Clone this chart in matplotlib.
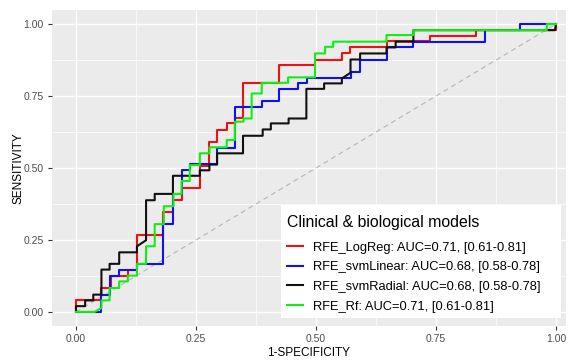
import matplotlib
matplotlib.use("Agg")
import matplotlib.pyplot as plt
from matplotlib.patches import Rectangle

plt.rcParams['font.family'] = ['Liberation Sans', 'DejaVu Sans']

# ROC paths (1-specificity, sensitivity)
logreg_fpr = [0, 0, .053, .053, .072, .072, .108, .108, .128, .128,
              .182, .182, .203, .203, .220, .220, .258, .258, .278, .278,
              .293, .293, .314, .314, .331, .331, .349, .349, .423, .423,
              .498, .498, .554, .554, .571, .571, .647, .647, .738, .738,
              .833, .833, 1.0, 1.0]
logreg_tpr = [0, .04, .04, .083, .083, .125, .125, .147, .147, .267,
              .267, .348, .348, .389, .389, .43, .43, .508, .508, .591,
              .591, .632, .632, .655, .655, .672, .672, .796, .796, .858,
              .858, .877, .877, .898, .898, .919, .919, .94, .94, .959,
              .959, .979, .979, 1.0]

svmlin_fpr = [0, .053, .053, .070, .070, .090, .090, .128, .128, .182,
              .182, .203, .203, .220, .220, .237, .237, .293, .293, .331,
              .331, .387, .387, .423, .423, .463, .463, .481, .481, .573,
              .573, .592, .592, .647, .647, .703, .703, .852, .852, .925,
              .925, 1.0]
svmlin_tpr = [0, 0, .06, .06, .124, .124, .147, .147, .167, .167,
              .307, .307, .41, .41, .493, .493, .513, .513, .568, .568,
              .713, .713, .733, .733, .773, .773, .794, .794, .813, .813,
              .834, .834, .877, .877, .919, .919, .939, .939, .979, .979,
              1.0, 1.0]

svmrad_fpr = [0, 0, .019, .019, .036, .036, .053, .053, .070, .070,
              .090, .090, .127, .127, .146, .146, .164, .164, .202, .202,
              .258, .258, .278, .278, .294, .294, .348, .348, .389, .389,
              .406, .406, .443, .443, .480, .480, .517, .517, .554, .554,
              .572, .572, .592, .592, .647, .647, .666, .666, .703, .703,
              .998, 1.0]
svmrad_tpr = [0, .02, .02, .04, .04, .06, .06, .147, .147, .167,
              .167, .207, .207, .228, .249, .388, .388, .41, .41, .473,
              .473, .492, .492, .512, .512, .551, .551, .612, .612, .634,
              .634, .655, .655, .672, .672, .775, .775, .794, .794, .811,
              .831, .877, .877, .898, .898, .919, .919, .939, .939, .979,
              .979, 1.0]

rf_fpr = [0, .039, .053, .053, .070, .070, .090, .090, .108, .108,
          .127, .127, .146, .146, .164, .164, .183, .183, .203, .203,
          .220, .220, .237, .237, .258, .258, .278, .278, .314, .314,
          .331, .331, .349, .349, .366, .366, .387, .387, .442, .442,
          .498, .498, .519, .519, .536, .536, .647, .647, .703, .703,
          .981, .981, 1.0]
rf_tpr = [0, 0, .014, .04, .04, .083, .083, .106, .106, .126,
          .126, .167, .167, .228, .228, .305, .305, .367, .367, .41,
          .41, .455, .455, .51, .51, .551, .551, .572, .572, .597,
          .597, .661, .661, .672, .672, .759, .759, .796, .796, .815,
          .815, .898, .898, .921, .921, .939, .939, .962, .962, .979,
          .979, 1.0, 1.0]

labels = ['RFE_LogReg: AUC=0.71, [0.61-0.81]',
          'RFE_svmLinear: AUC=0.68, [0.58-0.78]',
          'RFE_svmRadial: AUC=0.68, [0.58-0.78]',
          'RFE_Rf: AUC=0.71, [0.61-0.81]']
colors = ['#EE1111', '#1111EE', '#111111', '#11EE11']
ticks = [0, 0.25, 0.5, 0.75, 1.0]
tick_labels = ['0.00', '0.25', '0.50', '0.75', '1.00']

fig = plt.figure(figsize=(5.74, 3.6), dpi=100)
ax = fig.add_axes([52 / 574, 1 - 326 / 360, 514 / 574, 316 / 360])
ax.set_facecolor('#EBEBEB')
for s in ax.spines.values():
    s.set_visible(False)

# ggplot-like grid
for v in [0.125, 0.375, 0.625, 0.875]:
    ax.axvline(v, color='white', lw=0.5, zorder=0)
    ax.axhline(v, color='white', lw=0.5, zorder=0)
for v in ticks:
    ax.axvline(v, color='white', lw=1.0, zorder=0)
    ax.axhline(v, color='white', lw=1.0, zorder=0)

# chance line
ax.plot([0, 1], [0, 1], color='#BBBBBB', lw=0.9, ls=(0, (4, 3)), zorder=1)

curves = [(logreg_fpr, logreg_tpr), (svmlin_fpr, svmlin_tpr),
          (svmrad_fpr, svmrad_tpr), (rf_fpr, rf_tpr)]
for (fx, ty), c, lab in zip(curves, colors, labels):
    ax.plot(fx, ty, color=c, lw=1.5, label=lab, zorder=2)

ax.set_xlim(-0.05, 1.021)
ax.set_ylim(-0.049, 1.049)
ax.set_xticks(ticks)
ax.set_xticklabels(tick_labels)
ax.set_yticks(ticks)
ax.set_yticklabels(tick_labels)
ax.tick_params(colors='#4D4D4D', labelsize=7.5, length=3, width=0.8, pad=3)
ax.tick_params(axis='both', color='#333333')

ax.set_xlabel('1-SPECIFICITY', fontsize=8.5, labelpad=2)
ax.set_ylabel('SENSITIVITY', fontsize=8.5, labelpad=-1)

# legend box (white background, like ggplot's legend inside the panel)
ax.add_patch(Rectangle((0.4455, 0.0253), 0.5447, 0.3576,
                       transform=ax.transAxes, facecolor='white',
                       edgecolor='none', zorder=4))
leg = ax.legend(loc='upper left', bbox_to_anchor=(0.457, 0.350),
                title='Clinical & biological models', fontsize=9.25,
                title_fontsize=11.4, frameon=False, handlelength=1.25,
                handletextpad=0.75, labelspacing=0.6, borderpad=0,
                borderaxespad=0, alignment='left')
leg.set_zorder(5)
leg._legend_box.sep = 8

fig.savefig('out.png', dpi=100)
